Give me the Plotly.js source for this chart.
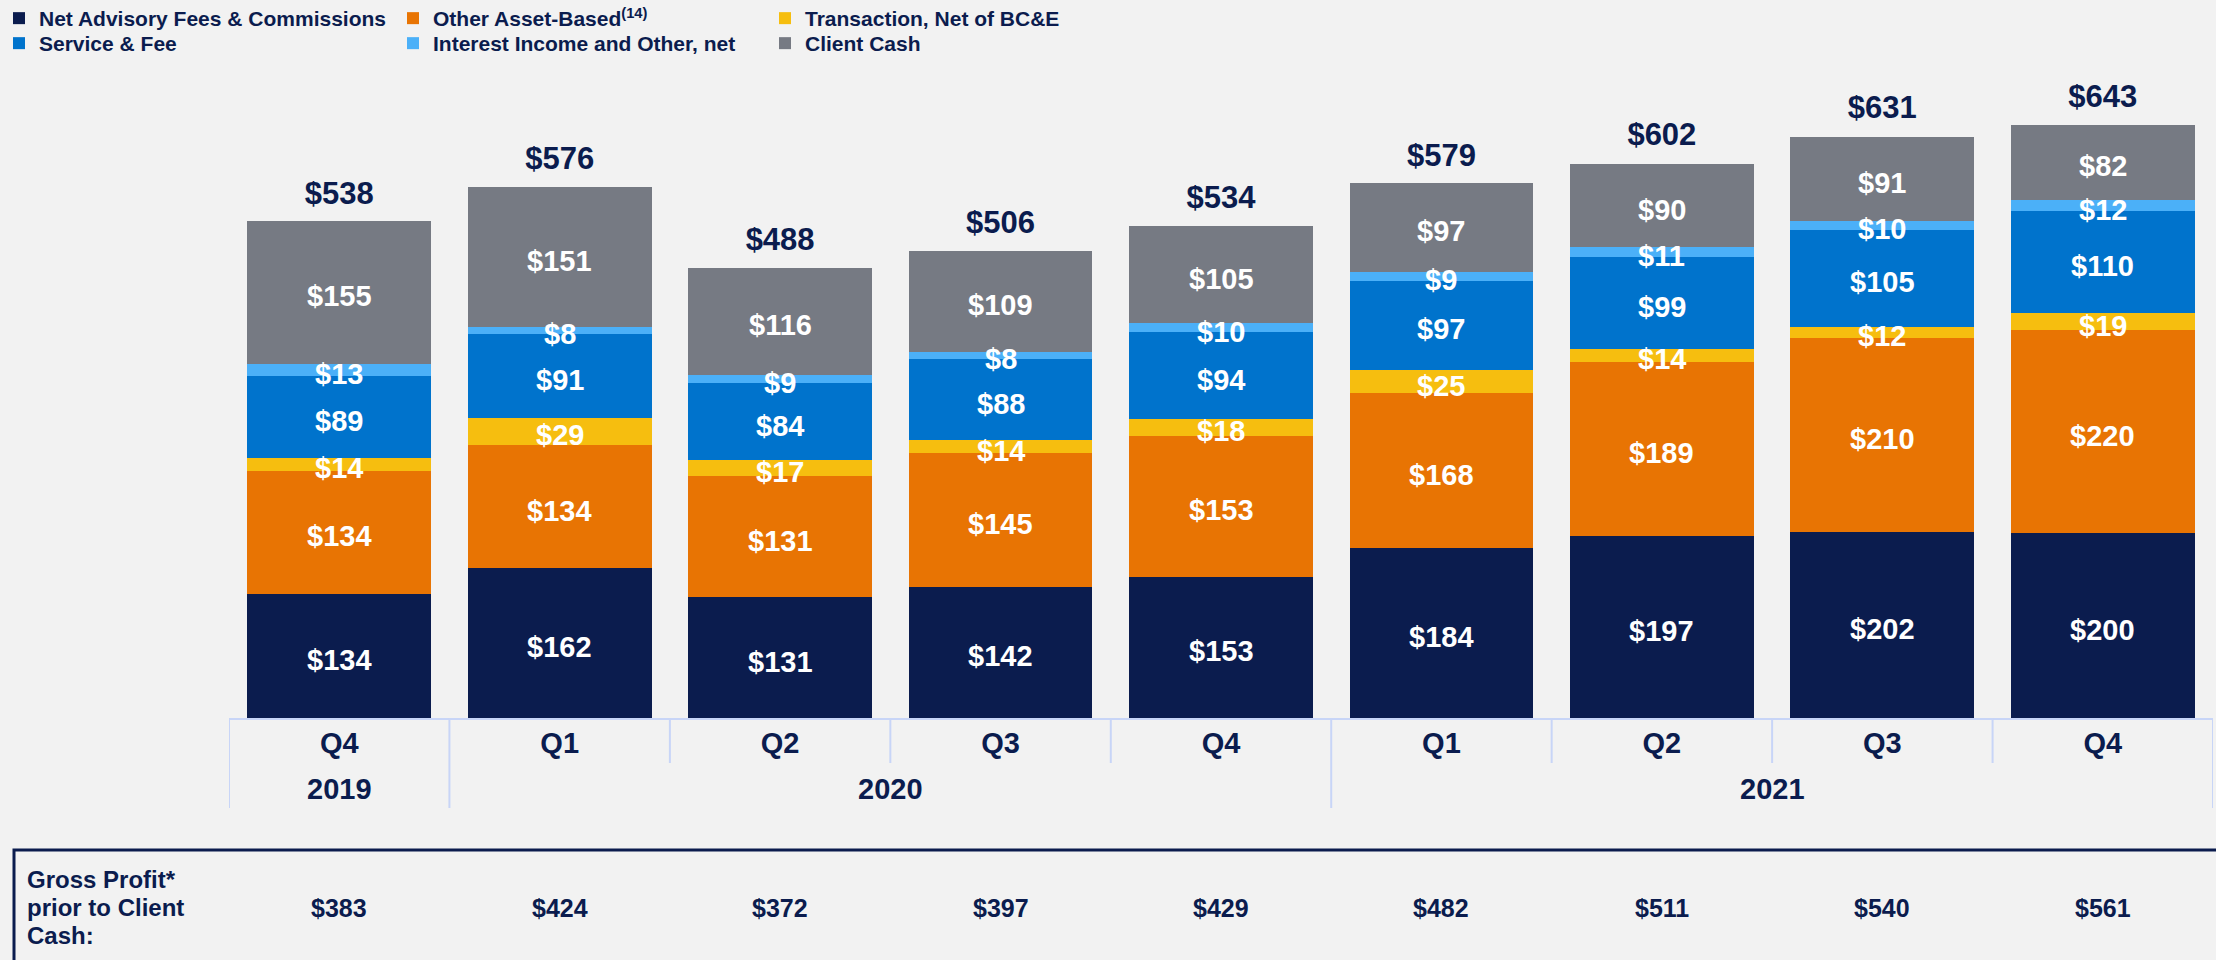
<!DOCTYPE html>
<html>
<head>
<meta charset="utf-8">
<script src="https://cdn.plot.ly/plotly-3.0.1.min.js"></script>
<style>html,body{margin:0;padding:0;background:#f2f2f2;}#chart{width:2216px;height:960px;}</style>
</head>
<body>
<div id="chart"></div>
<script>
// ---- data ----
const quarters = ["Q4", "Q1", "Q2", "Q3", "Q4", "Q1", "Q2", "Q3", "Q4"];
const years = ["2019", "2020", "2021"];
const netAdvisory = [134, 162, 131, 142, 153, 184, 197, 202, 200];
const otherAssetBased = [134, 134, 131, 145, 153, 168, 189, 210, 220];
const transaction = [14, 29, 17, 14, 18, 25, 14, 12, 19];
const serviceFee = [89, 91, 84, 88, 94, 97, 99, 105, 110];
const interestIncome = [13, 8, 9, 8, 10, 9, 11, 10, 12];
const clientCash = [155, 151, 116, 109, 105, 97, 90, 91, 82];
const totals = [538, 576, 488, 506, 534, 579, 602, 631, 643];
const grossProfit = [383, 424, 372, 397, 429, 482, 511, 540, 561];
const seriesNames = ["Net Advisory Fees & Commissions", "Other Asset-Based<sup>(14)</sup>", "Transaction, Net of BC&E",
                     "Service & Fee", "Interest Income and Other, net", "Client Cash"];

// ---- layout constants ----
const W = 2216, H = 960;
const M = {l: 229, r: 3, t: 60, b: 242, autoexpand: false};
const PW = W - M.l - M.r, PH = H - M.t - M.b;
const px2x = p => (p - M.l) / PW;
const py2y = p => (H - M.b - p) / PH;
const NAVY = "#0b1c4e";
const FONT = "Liberation Sans, Arial, sans-serif";
const colors = ["#0b1c4e", "#e87403", "#f6be0f", "#0073cc", "#4bb0f8", "#767a83"];
const seriesData = [netAdvisory, otherAssetBased, transaction, serviceFee, interestIncome, clientCash];
const xs = quarters.map((q, i) => i);

const legendPos = [[-1, -2], [393, -2], [765, -2], [-1, 23], [393, 23], [765, 23]];
const legendKeys = ["legend", "legend2", "legend3", "legend4", "legend5", "legend6"];

const traces = seriesData.map((vals, k) => ({
  type: "bar",
  name: seriesNames[k],
  x: xs,
  y: vals,
  marker: {color: colors[k], line: {width: 0}},
  legend: legendKeys[k],
  hoverinfo: "skip"
}));

// totals above bars
traces.push({
  type: "scatter",
  mode: "markers+text",
  x: xs,
  y: totals,
  marker: {size: 14, color: "rgba(0,0,0,0)"},
  text: totals.map(v => "$" + v),
  textposition: "top center",
  textfont: {family: FONT, size: 31, color: NAVY, weight: 700},
  cliponaxis: false,
  showlegend: false,
  hoverinfo: "skip"
});

const layout = {
  width: W, height: H, autosize: false,
  margin: M,
  paper_bgcolor: "#f2f2f2",
  plot_bgcolor: "#f2f2f2",
  barmode: "stack",
  bargap: 0.166,
  font: {family: FONT, color: NAVY},
  showlegend: true,
  xaxis: {
    range: [-0.5, 8.5],
    tickmode: "array",
    tickvals: xs,
    ticktext: quarters,
    tickfont: {family: FONT, size: 29, color: NAVY, weight: 700},
    ticks: "",
    ticklabelstandoff: -2,
    showline: true,
    linecolor: "#c8d5f7",
    linewidth: 2,
    showgrid: false,
    zeroline: false,
    automargin: false,
    fixedrange: true
  },
  yaxis: {
    range: [0, PH / 0.923],
    visible: false,
    showgrid: false,
    zeroline: false,
    automargin: false,
    fixedrange: true
  },
  shapes: [],
  annotations: []
};

// segment value labels (annotations sit above all bars)
const base = xs.map(() => 0);
seriesData.forEach((vals) => {
  vals.forEach((v, i) => {
    layout.annotations.push({
      text: "$" + v, xref: "x", yref: "y", x: xs[i], y: base[i] + v / 2,
      xanchor: "center", yanchor: "middle", yshift: -4, showarrow: false,
      font: {family: FONT, size: 29, color: "#ffffff", weight: 700}
    });
    base[i] += v;
  });
});

legendKeys.forEach((key, k) => {
  layout[key] = {
    x: px2x(legendPos[k][0]), xanchor: "left",
    y: py2y(legendPos[k][1]), yanchor: "top",
    orientation: "v",
    traceorder: "normal",
    bgcolor: "rgba(0,0,0,0)",
    borderwidth: 0,
    font: {family: FONT, size: 21, color: NAVY, weight: 700}
  };
});

// dividers under the x axis
const longDiv = [-0.5, 0.5, 4.5, 8.5];
const shortDiv = [1.5, 2.5, 3.5, 5.5, 6.5, 7.5];
longDiv.forEach(x => layout.shapes.push({type: "line", xref: "x", yref: "paper", x0: x, x1: x,
  y0: 0, y1: py2y(808), line: {color: "#c8d5f7", width: 2}}));
shortDiv.forEach(x => layout.shapes.push({type: "line", xref: "x", yref: "paper", x0: x, x1: x,
  y0: 0, y1: py2y(763), line: {color: "#c8d5f7", width: 2}}));

// table box
layout.shapes.push({type: "rect", xref: "paper", yref: "paper",
  x0: px2x(14), x1: px2x(2225), y0: py2y(850), y1: py2y(985),
  line: {color: NAVY, width: 3}, fillcolor: "rgba(0,0,0,0)"});

// year labels
const yearPos = [0, 2.5, 6.5];
years.forEach((yr, i) => layout.annotations.push({
  text: yr, xref: "x", yref: "paper", x: yearPos[i], y: py2y(789),
  xanchor: "center", yanchor: "middle", showarrow: false,
  font: {family: FONT, size: 29, color: NAVY, weight: 700}
}));

// gross profit row
["Gross Profit*", "prior to Client", "Cash:"].forEach((t, i) => layout.annotations.push({
  text: t, xref: "paper", yref: "paper", x: px2x(25), y: py2y(879 + 28 * i),
  xanchor: "left", yanchor: "middle", showarrow: false,
  font: {family: FONT, size: 24, color: NAVY, weight: 700}
}));
grossProfit.forEach((v, i) => layout.annotations.push({
  text: "$" + v, xref: "x", yref: "paper", x: xs[i], y: py2y(908),
  xanchor: "center", yanchor: "middle", showarrow: false,
  font: {family: FONT, size: 25, color: NAVY, weight: 700}
}));

Plotly.newPlot("chart", traces, layout, {displayModeBar: false, staticPlot: true});
</script>
</body>
</html>
